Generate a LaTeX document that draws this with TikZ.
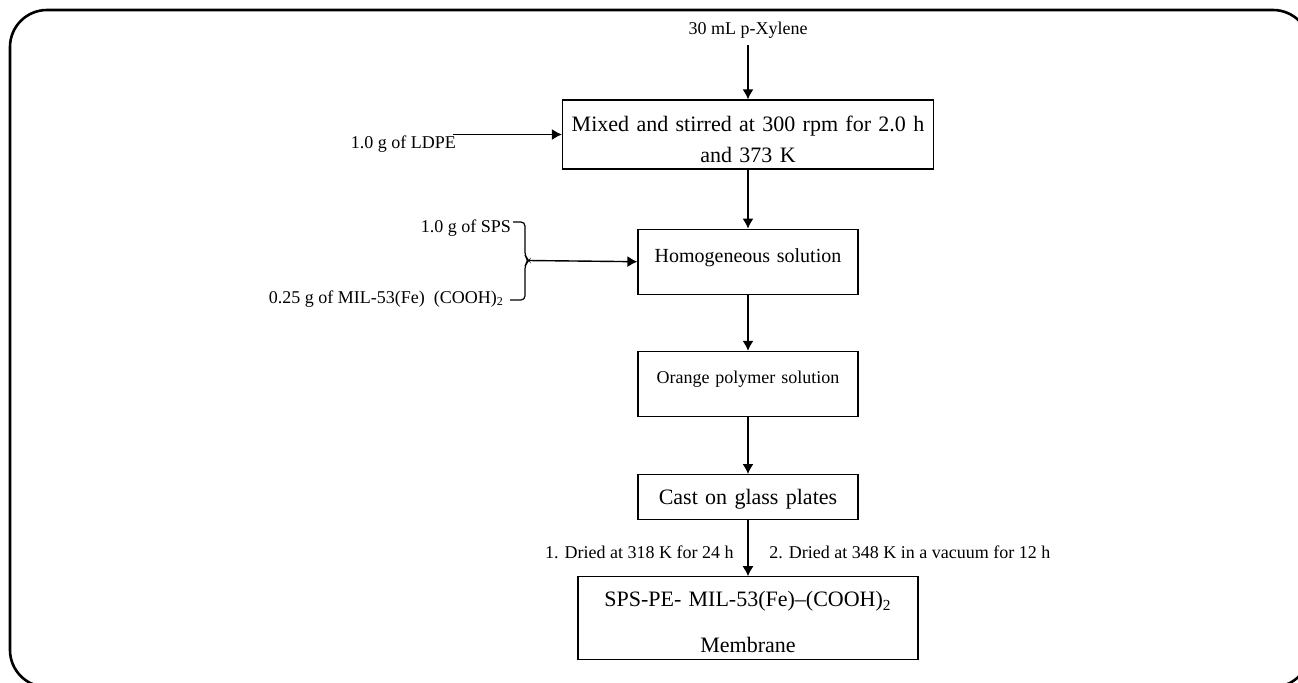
\documentclass[tikz,border=0pt]{standalone}
\usepackage{fontspec}
\setmainfont{Liberation Serif}
\usetikzlibrary{arrows.meta,positioning,calc}

\begin{document}
\begin{tikzpicture}[
  x=0.5pt, y=-0.5pt,
  node distance=28pt,
  box/.style={draw, line width=0.6pt, inner xsep=0pt, inner ysep=0pt, align=center},
  lbl/.style={font=\fontsize{9}{11}\selectfont},
  arr/.style={-{Latex[length=5pt, width=5.5pt]}, line width=0.7pt},
  frame/.style={line width=1.3pt, rounded corners=18.5pt}
]
\useasboundingbox (0,0) rectangle (1298,682);
\clip (0,0) rectangle (1298,682);
\draw[frame] (10,10) rectangle (1310,687);

% process steps
\node[box, text width=185.5pt, text height=15.5pt, text depth=19pt, font=\fontsize{11}{15.5}\selectfont] (mix) at (748,134.5) {Mixed and stirred at 300 rpm for 2.0 h\\and 373 K};
\node[box, below=29.5pt of mix, text width=110pt, text height=16.5pt, text depth=16pt, font=\fontsize{10}{12}\selectfont] (homo) {Homogeneous solution};
\node[box, below=28pt of homo, text width=110pt, text height=16pt, text depth=16.5pt, font=\fontsize{9}{11}\selectfont] (orange) {Orange polymer solution};
\node[box, below=28.5pt of orange, text width=110pt, text height=15pt, text depth=7.5pt, font=\fontsize{11}{13}\selectfont] (cast) {Cast on glass plates};
\node[box, below=28pt of cast, text width=170pt, text height=15pt, text depth=26.5pt, font=\fontsize{11}{23}\selectfont] (membrane) {SPS-PE- MIL-53(Fe)--(COOH)\textsubscript{2}\\Membrane};

% inputs
\node[lbl, above=27pt of mix] (xylene) {30 mL p-Xylene};
\node[lbl, anchor=base east] (ldpe) at (463,148) {1.0 g of LDPE};
\node[lbl, anchor=base east] (sps) at (518,232) {1.0 g of SPS};
\node[lbl, anchor=base east] (mil) at (511,303) {0.25 g of MIL-53(Fe)\ \ (COOH)\textsubscript{2}};
\coordinate (btop) at (513,222);
\coordinate (bbot) at (510,300);
\coordinate (btip) at (529,260.5);
\draw[line width=0.6pt, rounded corners=2pt] (btop) -| ($(btip)+(-4,-4)$) -- (btip) -- ($(btip)+(-4,4)$) |- (bbot);

\draw[arr] (xylene) -- (mix);
\draw[arr] ($(ldpe.east |- mix.west)+(-5pt,0)$) -- (mix.west);
\draw[arr] (btip) -- (homo.west);
\draw[arr] (mix) -- (homo);
\draw[arr] (homo) -- (orange);
\draw[arr] (orange) -- (cast);
\draw[arr] (cast) -- node[lbl, left=3.5pt, pos=0.57] (dry1) {1. Dried at 318 K for 24 h} node[lbl, right=7pt, pos=0.57] (dry2) {2. Dried at 348 K in a vacuum for 12 h} (membrane);
\end{tikzpicture}
\end{document}
